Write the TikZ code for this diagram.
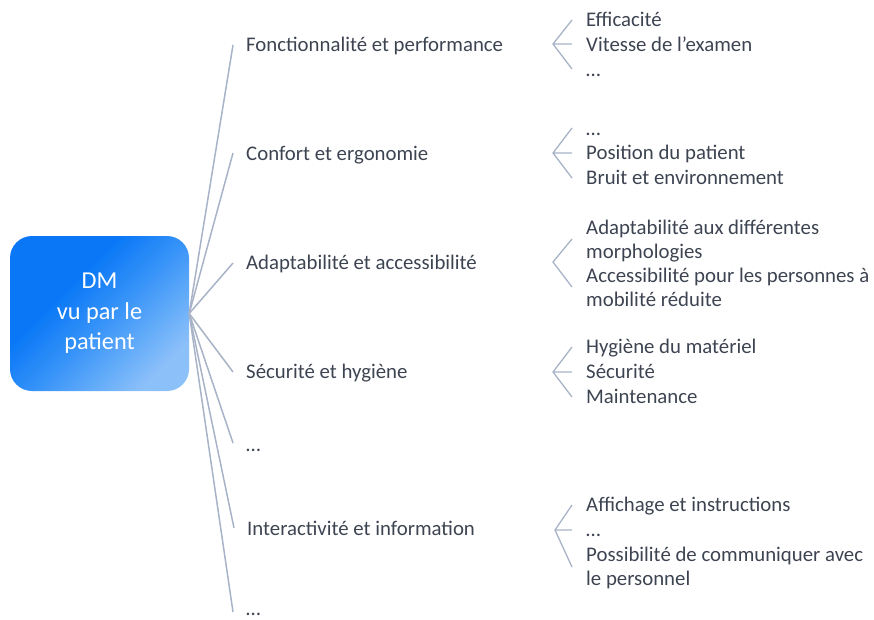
\documentclass[tikz,border=0pt]{standalone}
\usepackage{fontspec}
\setmainfont{Carlito}
\definecolor{txt}{HTML}{3D4451}
\definecolor{ln}{HTML}{A8B3C7}
\definecolor{bdark}{HTML}{0A78F6}
\definecolor{bmid}{HTML}{3592F8}
\definecolor{bmidl}{HTML}{66ADF9}
\definecolor{blight}{HTML}{8CC0F9}
\pgfdeclareverticalshading{dmshade}{100bp}{color(0bp)=(blight); color(25bp)=(blight); color(35bp)=(bmidl); color(48bp)=(bmid); color(62bp)=(bdark); color(100bp)=(bdark)}
\begin{document}
\begin{tikzpicture}[x=1pt,y=-1pt,
  lab/.style={anchor=base west,inner sep=0pt,text=txt,font=\fontsize{20.8}{25}\selectfont},
  conn/.style={draw=ln,line width=1.5pt},
  brk/.style={draw=ln,line width=1.3pt}]
\useasboundingbox (0,0) rectangle (874,619);
\node[rounded corners=22pt,minimum width=179pt,minimum height=155pt,inner sep=0pt,
  shading=dmshade,shading angle=45,
  text=white,align=center,font=\fontsize{24.3}{30.5}\selectfont] (dm) at (99.5,313.5) {DM\\vu par le\\patient};
% level 1 labels
\node[lab] (c1) at (246,51) {Fonctionnalité et performance};
\node[lab] (c2) at (246,160) {Confort et ergonomie};
\node[lab] (c3) at (246,269) {Adaptabilité et accessibilité};
\node[lab] (c4) at (246,378) {Sécurité et hygiène};
\node[lab] (c5) at (246,451) {…};
\node[lab] (c6) at (247,535) {Interactivité et information};
\node[lab] (c7) at (246,615) {…};
\coordinate (e1) at (233,45);
\coordinate (e2) at (233,153);
\coordinate (e3) at (233,263);
\coordinate (e4) at (233,372);
\coordinate (e5) at (233,443);
\coordinate (e6) at (234,528);
\coordinate (e7) at (233,612);
\foreach \i in {1,...,7} \draw[conn] (dm.east) -- (e\i);
% group 1
\node[lab] (g1a) at (586,26) {Efficacité};
\node[lab] (g1b) at (586,51) {Vitesse de l’examen};
\node[lab] (g1c) at (586,76) {…};
\coordinate (a1) at (553,44);
\coordinate (a1t) at (572,20);
\coordinate (a1m) at (572,44);
\coordinate (a1b) at (572,69);
\draw[brk] (a1t) -- (a1) -- (a1b) (a1) -- (a1m);
% group 2
\node[lab] (g2a) at (586,135) {…};
\node[lab] (g2b) at (586,159) {Position du patient};
\node[lab] (g2c) at (586,184) {Bruit et environnement};
\coordinate (a2) at (553,153);
\coordinate (a2t) at (572,128);
\coordinate (a2m) at (572,153);
\coordinate (a2b) at (572,178);
\draw[brk] (a2t) -- (a2) -- (a2b) (a2) -- (a2m);
% group 3
\node[lab] (g3a) at (586,234) {Adaptabilité aux différentes};
\node[lab] (g3b) at (586,258) {morphologies};
\node[lab] (g3c) at (586,282) {Accessibilité pour les personnes à};
\node[lab] (g3d) at (586,306) {mobilité réduite};
\coordinate (a3) at (553,262);
\coordinate (a3t) at (572,239);
\coordinate (a3b) at (572,287);
\draw[brk] (a3t) -- (a3) -- (a3b);
% group 4
\node[lab] (g4a) at (586,353) {Hygiène du matériel};
\node[lab] (g4b) at (586,378) {Sécurité};
\node[lab] (g4c) at (586,403) {Maintenance};
\coordinate (a4) at (553,372);
\coordinate (a4t) at (572,347);
\coordinate (a4m) at (572,372);
\coordinate (a4b) at (572,397);
\draw[brk] (a4t) -- (a4) -- (a4b) (a4) -- (a4m);
% group 5
\node[lab] (g5a) at (586,511) {Affichage et instructions};
\node[lab] (g5b) at (586,536) {…};
\node[lab] (g5c) at (586,561) {Possibilité de communiquer avec};
\node[lab] (g5d) at (586,585) {le personnel};
\coordinate (a5) at (555,530);
\coordinate (a5t) at (572,505);
\coordinate (a5m) at (572,530);
\coordinate (a5b) at (572,567);
\draw[brk] (a5t) -- (a5) -- (a5b) (a5) -- (a5m);
\end{tikzpicture}
\end{document}
